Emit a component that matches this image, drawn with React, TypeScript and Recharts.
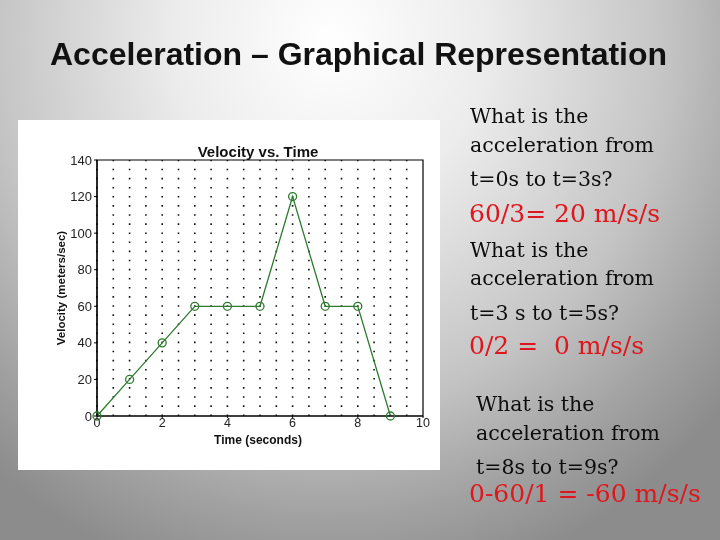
import React from 'react';
import { LineChart, Line, XAxis, YAxis, ReferenceLine, ReferenceArea } from 'recharts';

const times = [0, 1, 2, 3, 4, 5, 6, 7, 8, 9];
const velocities = [0, 20, 40, 60, 60, 60, 120, 60, 60, 0];
const xTicks = [0, 2, 4, 6, 8, 10];
const yTicks = [0, 20, 40, 60, 80, 100, 120, 140];
const gridTimes = [0, 0.5, 1, 1.5, 2, 2.5, 3, 3.5, 4, 4.5, 5, 5.5, 6, 6.5, 7, 7.5, 8, 8.5, 9, 9.5];

const slideTitle = 'Acceleration – Graphical Representation';
const chartTitle = 'Velocity vs. Time';
const xLabel = 'Time (seconds)';
const yLabel = 'Velocity (meters/sec)';

type TextLine = { text: string; x: number; baseline: number; red?: boolean };
const sideLines: TextLine[] = [
  { text: 'What is the', x: 470, baseline: 123 },
  { text: 'acceleration from', x: 470, baseline: 152 },
  { text: 't=0s to t=3s?', x: 470, baseline: 186 },
  { text: '60/3= 20 m/s/s', x: 469, baseline: 222, red: true },
  { text: 'What is the', x: 470, baseline: 257 },
  { text: 'acceleration from', x: 470, baseline: 285 },
  { text: 't=3 s to t=5s?', x: 470, baseline: 320 },
  { text: '0/2 =  0 m/s/s', x: 469, baseline: 354, red: true },
  { text: 'What is the', x: 476, baseline: 411 },
  { text: 'acceleration from', x: 476, baseline: 440 },
  { text: 't=8s to t=9s?', x: 476, baseline: 474 },
  { text: '0-60/1 = -60 m/s/s', x: 469, baseline: 502, red: true },
];

const data = times.map((t, i) => ({ t, v: velocities[i] }));

const GREEN = '#2e7a2e';
const SANS = "'Liberation Sans', Arial, sans-serif";

function Positioned({ x, baseline, size, font, color, weight, children }: any) {
  return (
    <div
      style={{
        position: 'absolute',
        left: x,
        top: baseline - 0.846 * size,
        fontSize: size,
        lineHeight: `${size}px`,
        fontFamily: font,
        color,
        fontWeight: weight || 'normal',
        whiteSpace: 'pre',
      }}
    >
      {children}
    </div>
  );
}

export default function App() {
  return (
    <div
      style={{
        position: 'fixed',
        left: 0,
        top: 0,
        width: 720,
        height: 540,
        overflow: 'hidden',
        background:
          'radial-gradient(ellipse 520px 560px at 330px 40px, #ffffff 0%, #ececec 30%, #c4c4c4 65%, #a2a2a2 85%, #8c8c8c 100%)',
      }}
    >
      <Positioned x={50} baseline={65} size={32} font={SANS} color="#111" weight="bold">
        {slideTitle}
      </Positioned>

      <div style={{ position: 'absolute', left: 18, top: 120, width: 422, height: 350, background: '#fff' }}>
        <LineChart width={422} height={350} data={data} margin={{ top: 40, right: 17, left: 19, bottom: 24 }}>
          <XAxis
            dataKey="t"
            type="number"
            domain={[0, 10]}
            ticks={xTicks}
            interval={0}
            axisLine={{ stroke: '#000', strokeWidth: 1.2 }}
            tickLine={{ stroke: '#000' }}
            tickSize={2}
            tickMargin={0}
            height={30}
            tick={{ fontSize: 12.5, fill: '#222', fontFamily: SANS }}
          />
          <YAxis
            dataKey="v"
            type="number"
            domain={[0, 140]}
            ticks={yTicks}
            interval={0}
            width={60}
            axisLine={{ stroke: '#000', strokeWidth: 1.2 }}
            tickLine={{ stroke: '#000' }}
            tickSize={3}
            tickMargin={2}
            tick={{ fontSize: 13, fill: '#222', fontFamily: SANS }}
          />
          {gridTimes.map((gx) => (
            <ReferenceLine
              key={gx}
              x={gx}
              stroke="#111"
              strokeWidth={1.6}
              strokeDasharray="1.6 7.5"
              ifOverflow="visible"
            />
          ))}
          <ReferenceArea x1={0} x2={10} y1={0} y2={140} fill="none" stroke="#000" strokeWidth={1.2} ifOverflow="visible" />
          <Line
            type="linear"
            dataKey="v"
            stroke={GREEN}
            strokeWidth={1.3}
            isAnimationActive={false}
            dot={{ r: 4, stroke: GREEN, strokeWidth: 1.3, fill: 'none' }}
            activeDot={false}
          />
        </LineChart>
        <div
          style={{
            position: 'absolute',
            left: 0,
            width: 480,
            top: 37 - 0.846 * 15,
            textAlign: 'center',
            fontFamily: SANS,
            fontWeight: 'bold',
            fontSize: 15,
            lineHeight: '15px',
            color: '#111',
          }}
        >
          {chartTitle}
        </div>
        <div
          style={{
            position: 'absolute',
            left: 0,
            width: 480,
            top: 324 - 0.846 * 12,
            textAlign: 'center',
            fontFamily: SANS,
            fontWeight: 'bold',
            fontSize: 12,
            lineHeight: '12px',
            color: '#111',
          }}
        >
          {xLabel}
        </div>
        <div
          style={{
            position: 'absolute',
            left: 43 - 100,
            top: 168 - 6,
            width: 200,
            height: 12,
            textAlign: 'center',
            transform: 'rotate(-90deg)',
            fontFamily: SANS,
            fontWeight: 'bold',
            fontSize: 11.5,
            lineHeight: '12px',
            color: '#111',
          }}
        >
          {yLabel}
        </div>
      </div>

      {sideLines.map((l, i) => (
        <Positioned
          key={i}
          x={l.x}
          baseline={l.baseline}
          size={l.red ? 25 : 20.5}
          font="'DejaVu Serif', serif"
          color={l.red ? '#e0161c' : '#0c0c0c'}
        >
          {l.text}
        </Positioned>
      ))}
    </div>
  );
}
